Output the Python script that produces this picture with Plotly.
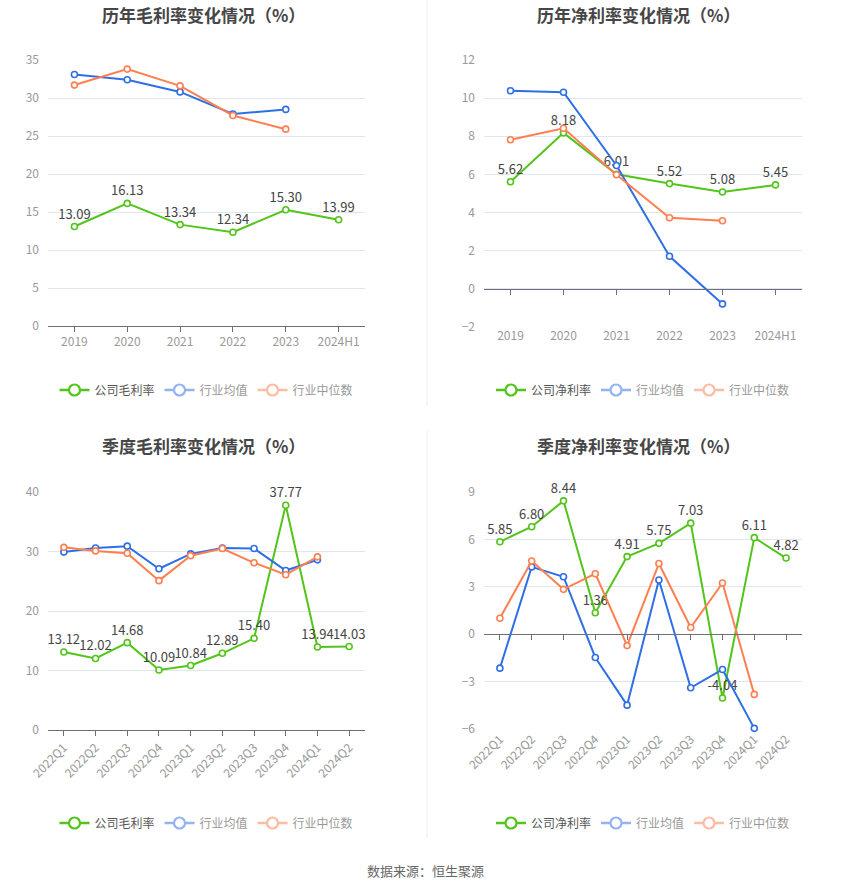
"""
毛利率 / 净利率 变化情况 — 四宫格折线图 (Plotly).
"""
import plotly.graph_objects as go

W, H = 850, 891

# ---- 数据 ----
years = ["2019", "2020", "2021", "2022", "2023", "2024H1"]
quarters = ["2022Q1", "2022Q2", "2022Q3", "2022Q4", "2023Q1",
            "2023Q2", "2023Q3", "2023Q4", "2024Q1", "2024Q2"]

gross_company = [13.09, 16.13, 13.34, 12.34, 15.30, 13.99]
gross_mean = [33.1, 32.4, 30.8, 27.9, 28.5]
gross_median = [31.7, 33.8, 31.6, 27.7, 25.9]

net_company = [5.62, 8.18, 6.01, 5.52, 5.08, 5.45]
net_mean = [10.39, 10.31, 6.47, 1.71, -0.79]
net_median = [7.82, 8.42, 5.98, 3.73, 3.57]

q_gross_company = [13.12, 12.02, 14.68, 10.09, 10.84, 12.89, 15.40, 37.77, 13.94, 14.03]
q_gross_mean = [29.9, 30.6, 30.9, 27.1, 29.6, 30.6, 30.5, 26.8, 28.6]
q_gross_median = [30.7, 30.1, 29.7, 25.1, 29.3, 30.5, 28.1, 26.1, 29.1]

q_net_company = [5.85, 6.80, 8.44, 1.36, 4.91, 5.75, 7.03, -4.04, 6.11, 4.82]
q_net_mean = [-2.15, 4.26, 3.64, -1.47, -4.49, 3.43, -3.39, -2.23, -5.96]
q_net_median = [1.01, 4.63, 2.84, 3.83, -0.72, 4.47, 0.42, 3.24, -3.81]

GREEN = "#52C41A"
BLUE = "#2F6FE4"
ORANGE = "#FF7F50"
BLUE_PALE = "#93B3F2"
ORANGE_PALE = "#FFBBA3"
FONT = "Noto Sans CJK SC, Noto Sans, sans-serif"


def px_x(v):
    return v / W


def px_y(v):
    return 1 - v / H


# 面板: 标题, 类别, 三组数据, y 范围, dtick, 像素区域 (x0, x1, ytop, ybottom)
PANELS = [
    dict(title="历年毛利率变化情况（%）", cats=years, name="公司毛利率",
         series=(gross_company, gross_mean, gross_median),
         yr=(0, 35), dtick=5, box=(48, 365, 60, 326), rot=0, title_x=203),
    dict(title="历年净利率变化情况（%）", cats=years, name="公司净利率",
         series=(net_company, net_mean, net_median),
         yr=(-2, 12), dtick=2, box=(484, 802, 60, 327), rot=0, title_x=638),
    dict(title="季度毛利率变化情况（%）", cats=quarters, name="公司毛利率",
         series=(q_gross_company, q_gross_mean, q_gross_median),
         yr=(0, 40), dtick=10, box=(48, 365, 492, 730), rot=-45, title_x=203),
    dict(title="季度净利率变化情况（%）", cats=quarters, name="公司净利率",
         series=(q_net_company, q_net_mean, q_net_median),
         yr=(-6, 9), dtick=3, box=(484, 802, 492, 729), rot=-45, title_x=638),
]

fig = go.Figure()
layout = {}
annotations = []

for i, p in enumerate(PANELS, start=1):
    sfx = "" if i == 1 else str(i)
    xa, ya = f"x{sfx}", f"y{sfx}"
    leg = "legend" if i == 1 else f"legend{i}"
    cats = p["cats"]
    company, mean, median = p["series"]
    x0, x1, yt, yb = p["box"]
    ymin, ymax = p["yr"]

    # 图例专用（大图标，行业两项为浅色）
    legend_items = (
        (p["name"], GREEN, "#555555"),
        ("行业均值", BLUE_PALE, "#999999"),
        ("行业中位数", ORANGE_PALE, "#999999"),
    )
    for nm, c, tc in legend_items:
        fig.add_trace(go.Scatter(
            x=[None], y=[None], name=f"<span style='color:{tc}'>{nm}</span>",
            legend=leg, xaxis=xa, yaxis=ya, mode="lines+markers",
            line=dict(color=c, width=2.5),
            marker=dict(symbol="circle", size=11, color="white",
                        line=dict(color=c, width=2.2)),
        ))

    fig.add_trace(go.Scatter(
        x=cats, y=company, showlegend=False,
        mode="lines+markers+text", xaxis=xa, yaxis=ya, cliponaxis=False,
        text=[f"{v:.2f}" for v in company], textposition="top center",
        textfont=dict(size=13, color="#444444", family=FONT),
        line=dict(color=GREEN, width=2),
        marker=dict(symbol="circle", size=6, color="white",
                    line=dict(color=GREEN, width=1.6)),
    ))
    for vals, c in ((mean, BLUE), (median, ORANGE)):
        fig.add_trace(go.Scatter(
            x=cats[:len(vals)], y=vals, showlegend=False,
            mode="lines+markers", xaxis=xa, yaxis=ya, cliponaxis=False,
            line=dict(color=c, width=2),
            marker=dict(symbol="circle", size=6, color="white",
                        line=dict(color=c, width=1.6)),
        ))

    on_zero = ymin < 0
    layout[f"xaxis{sfx}"] = dict(
        domain=[px_x(x0), px_x(x1)], anchor=ya, type="category",
        categoryorder="array", categoryarray=cats,
        range=[-0.5, len(cats) - 0.5], automargin=False,
        showgrid=False, zeroline=False,
        showline=not on_zero, linecolor="#6E7079", linewidth=1,
        ticks="" if on_zero else "outside", ticklen=5, tickcolor="#6E7079",
        tickangle=p["rot"], tickfont=dict(size=12, color="#999999", family=FONT),
        fixedrange=True,
    )
    layout[f"yaxis{sfx}"] = dict(
        domain=[px_y(yb), px_y(yt)], anchor=xa, range=[ymin, ymax],
        dtick=p["dtick"], showgrid=True, gridcolor="#E0E6F1", gridwidth=1,
        zeroline=False, showline=False, ticks="", ticklabelstandoff=8,
        automargin=False,
        tickfont=dict(size=12, color="#999999", family=FONT), fixedrange=True,
    )

    if on_zero:
        # 轴线落在 0 处，标签仍在底部
        k = 4 + i // 2
        d0, d1 = px_y(yb), px_y(yt)
        pos = d0 + (0 - ymin) / (ymax - ymin) * (d1 - d0)
        layout[f"xaxis{k}"] = dict(
            overlaying=xa, anchor="free", position=pos, automargin=False,
            range=[-0.5, len(cats) - 0.5], tickvals=list(range(len(cats))),
            showticklabels=False, showgrid=False, zeroline=False,
            showline=True, linecolor="#6E7079", linewidth=1,
            ticks="outside", ticklen=5, tickcolor="#6E7079", fixedrange=True,
        )
        fig.add_trace(go.Scatter(x=[None], y=[None], xaxis=f"x{k}", yaxis=ya,
                                 showlegend=False, hoverinfo="skip"))

    leg_y = 390 if i <= 2 else 823
    layout[leg] = dict(
        orientation="h", x=px_x((x0 + x1) / 2), xanchor="center",
        y=px_y(leg_y), yanchor="middle", bgcolor="rgba(0,0,0,0)",
        font=dict(size=12, color="#555555", family=FONT),
        itemwidth=30, tracegroupgap=0,
    )

    annotations.append(dict(
        text=f"<b>{p['title']}</b>", xref="paper", yref="paper",
        x=px_x(p["title_x"]), y=px_y(14 if i <= 2 else 445),
        xanchor="center", yanchor="middle", showarrow=False,
        font=dict(size=17, color="#464646", family=FONT),
    ))

annotations.append(dict(
    text="数据来源：恒生聚源", xref="paper", yref="paper",
    x=px_x(425), y=px_y(870), xanchor="center", yanchor="middle", showarrow=False,
    font=dict(size=13, color="#666666", family=FONT),
))

shapes = [
    dict(type="line", xref="paper", yref="paper", x0=px_x(427), x1=px_x(427),
         y0=px_y(0), y1=px_y(406), line=dict(color="#EEEEEE", width=1)),
    dict(type="line", xref="paper", yref="paper", x0=px_x(427), x1=px_x(427),
         y0=px_y(431), y1=px_y(838), line=dict(color="#EEEEEE", width=1)),
]

fig.update_layout(
    template="none",
    width=W, height=H, margin=dict(l=0, r=0, t=0, b=0, autoexpand=False),
    paper_bgcolor="white", plot_bgcolor="white",
    font=dict(family=FONT), annotations=annotations, shapes=shapes,
    **layout,
)

# 去掉浏览器 body 默认边距，让图表贴齐窗口
fig.write_html("out.html", config={"displayModeBar": False},
               post_script="document.body.style.margin = '0';")
